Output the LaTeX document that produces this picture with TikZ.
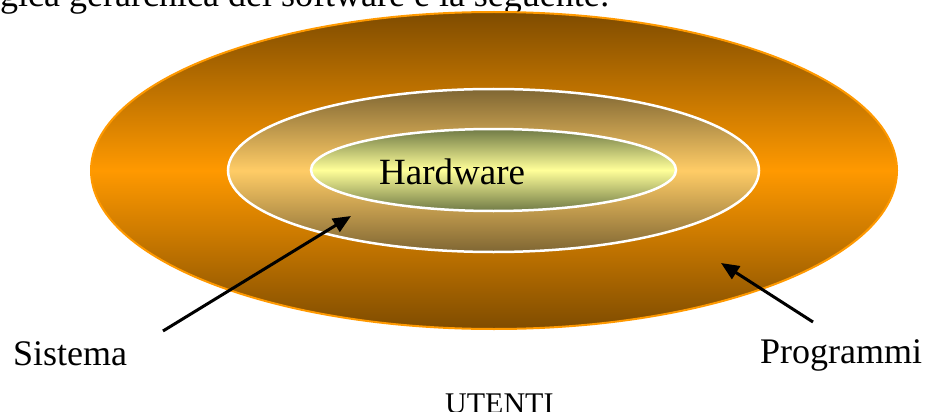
\documentclass[tikz,border=0pt]{standalone}
\usepackage{fontspec}
\setmainfont{Liberation Serif}
\usetikzlibrary{shapes.geometric,arrows.meta}
\definecolor{orgA}{RGB}{255,153,0}
\definecolor{orgD}{RGB}{127,76,0}
\definecolor{midA}{RGB}{255,204,102}
\definecolor{midD}{RGB}{127,102,51}
\definecolor{innA}{RGB}{255,255,153}
\definecolor{innD}{RGB}{112,122,70}
\begin{document}
\begin{tikzpicture}[x=1pt,y=-1pt,
  lbl/.style={inner sep=0pt, anchor=base west, font=\fontsize{36}{40}\selectfont},
  ring/.style={ellipse, inner sep=0pt},
  pointer/.style={line width=3pt, -{Triangle[length=18pt,width=15pt]}}]
\useasboundingbox (0,0) rectangle (927,412);
\clip (0,0) rectangle (927,412);
% intro text (cut at top)
\node[lbl] (intro) at (0,7) {gica gerarchica del software è la seguente:};
% rings
\node[ring, minimum width=806pt, minimum height=317pt,
  top color=orgD, bottom color=orgD, middle color=orgA,
  draw=orgA, line width=2pt] (outer) at (494,170.5) {};
\node[ring, minimum width=531pt, minimum height=163pt,
  top color=midD, bottom color=midD, middle color=midA,
  draw=white, line width=2.5pt] (middle) at (493.5,170.5) {};
\node[ring, minimum width=365pt, minimum height=82pt,
  top color=innD, bottom color=innD, middle color=innA,
  draw=white, line width=2.5pt] (inner) at (493.5,170) {};
\node[lbl, font=\fontsize{37}{40}\selectfont] (hw) at (379,184) {Hardware};
% labels
\node[lbl] (sis) at (13,365) {Sistema};
\node[lbl] (prog) at (760,363) {Programmi};
\node[lbl, font=\fontsize{30}{34}\selectfont] (ut) at (445,413) {UTENTI};
% arrows
\coordinate (sA) at (163,331);
\coordinate (sB) at (351,216);
\coordinate (pA) at (813,322);
\coordinate (pB) at (721,263);
\draw[pointer] (sA) -- (sB);
\draw[pointer] (pA) -- (pB);
\end{tikzpicture}
\end{document}
